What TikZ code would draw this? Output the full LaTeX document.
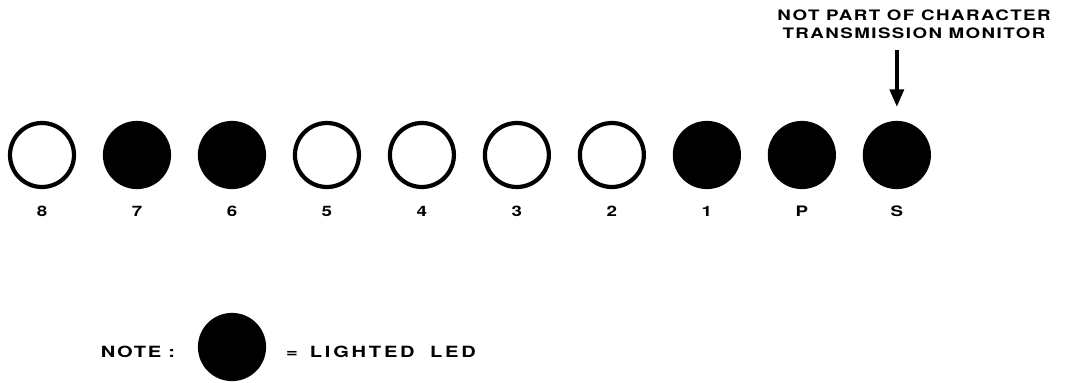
\documentclass[tikz,border=0pt]{standalone}
\usepackage{fontspec}
\usetikzlibrary{positioning, arrows.meta}
\newfontfamily\platefont{TeX Gyre Heros}[FakeStretch=1.3,LetterSpace=10]
\newfontfamily\legendfont{TeX Gyre Heros}[FakeStretch=1.3,LetterSpace=18]

\begin{document}
\begin{tikzpicture}[x=0.02cm,y=0.02cm,node distance=1.9cm,
    font=\platefont\bfseries\fontsize{8.2}{10.2}\selectfont,
    led/.style={circle,draw,line width=2.4pt,minimum size=1.28cm,inner sep=0pt},
    lit/.style={led,fill=black},
    legend/.style={font=\platefont\bfseries\fontsize{8.8}{10.2}\selectfont},
    every label/.style={yshift=-0.22cm},
    >={Triangle[width=8pt,length=10pt]}]
  \useasboundingbox (0,0) rectangle (1067,-382);

  \node[led] (b8) at (42,-155) [label=below:8] {};
  \node[lit] (b7) [right of=b8, label=below:7] {};
  \node[lit] (b6) [right of=b7, label=below:6] {};
  \node[led] (b5) [right of=b6, label=below:5] {};
  \node[led] (b4) [right of=b5, label=below:4] {};
  \node[led] (b3) [right of=b4, label=below:3] {};
  \node[led] (b2) [right of=b3, label=below:2] {};
  \node[lit] (b1) [right of=b2, label=below:1] {};
  \node[lit] (bp) [right of=b1, label=below:P] {};
  \node[lit] (bs) [right of=bp, label=below:S] {};

  \node[align=center] (notpart) at (914,-24) {NOT PART OF CHARACTER\\TRANSMISSION MONITOR};
  \draw[->,line width=2pt,shorten <=3pt,shorten >=8pt] (bs |- notpart.south) -- (bs.north);

  % legend
  \node[lit] (key) at (232,-347) {};
  \node[legend] (note) at (138,-352) {NOTE :};
  \node[anchor=west,font=\legendfont\bfseries\fontsize{8.8}{10.2}\selectfont] (lighted) at (280,-352) {=\hspace{2pt} LIGHTED\hspace{4pt} LED};
\end{tikzpicture}
\end{document}
